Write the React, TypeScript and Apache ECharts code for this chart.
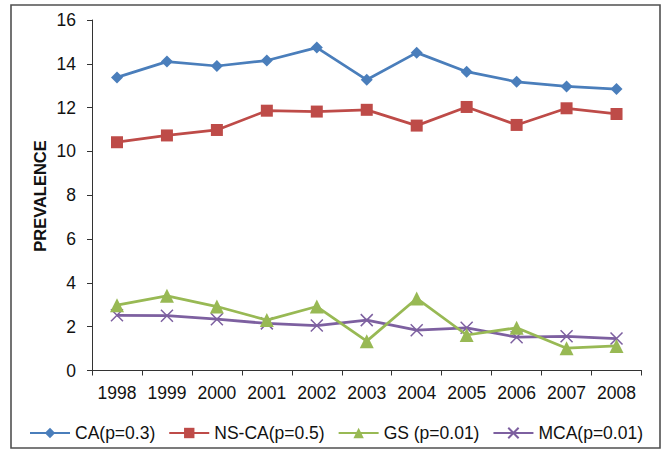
import React, { useEffect, useRef } from "react";
import * as echarts from "echarts";

const years = ["1998", "1999", "2000", "2001", "2002", "2003", "2004", "2005", "2006", "2007", "2008"];
const caValues = [13.38, 14.1, 13.9, 14.15, 14.74, 13.27, 14.51, 13.64, 13.18, 12.97, 12.85];
const nscaValues = [10.42, 10.73, 10.98, 11.86, 11.82, 11.9, 11.18, 12.03, 11.21, 11.97, 11.71];
const gsValues = [2.98, 3.41, 2.92, 2.3, 2.92, 1.34, 3.29, 1.62, 1.95, 1.02, 1.12];
const mcaValues = [2.52, 2.5, 2.34, 2.15, 2.05, 2.3, 1.84, 1.95, 1.52, 1.56, 1.46];
const seriesNames = ["CA(p=0.3)", "NS-CA(p=0.5)", "GS (p=0.01)", "MCA(p=0.01)"];
const colors = ["#4a7ebb", "#be4b48", "#98b954", "#7d60a0"];
const yTitle = "PREVALENCE";

const FONT = "'Liberation Sans', Arial, sans-serif";

export default function App() {
  const ref = useRef<HTMLDivElement>(null);
  useEffect(() => {
    if (!ref.current) return;
    const chart = echarts.init(ref.current, null, { renderer: "svg" });
    const symbols = ["diamond", "rect", "triangle", "path://M0,0L10,10M10,0L0,10"];
    const sizes = [12, 12, 14, 12];
    const data = [caValues, nscaValues, gsValues, mcaValues];
    chart.setOption({
      animation: false,
      backgroundColor: "#ffffff",
      grid: { left: 92, right: 23.5, top: 20, bottom: 78.5, containLabel: false },
      legend: {
        bottom: 2,
        left: 24,
        itemWidth: 40,
        itemHeight: 13,
        itemGap: 13,
        textStyle: { fontFamily: FONT, fontSize: 17.5, color: "#111" },
        data: seriesNames,
      },
      graphic: [
        {
          type: "rect",
          shape: { x: 11, y: 5, width: 649, height: 443 },
          style: { fill: "none", stroke: "#505050", lineWidth: 1.6 },
          silent: true,
        },
        {
          type: "text",
          x: 40,
          y: 196,
          rotation: Math.PI / 2,
          style: {
            text: yTitle,
            fontFamily: FONT,
            fontSize: 16.5,
            fontWeight: "bold",
            fill: "#111",
            textAlign: "center",
            textVerticalAlign: "middle",
          },
        },
      ],
      xAxis: {
        type: "category",
        data: years,
        boundaryGap: true,
        axisLine: { lineStyle: { color: "#333", width: 1 } },
        axisTick: { show: true, length: 5, alignWithLabel: false, lineStyle: { color: "#333" } },
        axisLabel: { fontFamily: FONT, fontSize: 17.5, color: "#111", margin: 13, interval: 0 },
        splitLine: { show: false },
      },
      yAxis: {
        type: "value",
        min: 0,
        max: 16,
        interval: 2,
        axisLine: { show: true, lineStyle: { color: "#333", width: 1 } },
        axisTick: { show: true, length: 5, lineStyle: { color: "#333" } },
        axisLabel: { fontFamily: FONT, fontSize: 17.5, color: "#111", margin: 16 },
        splitLine: { show: false },
      },
      series: seriesNames.map((name, i) => ({
        name,
        type: "line",
        data: data[i],
        symbol: symbols[i],
        symbolSize: sizes[i],
        showAllSymbol: true,
        lineStyle: { color: colors[i], width: 2.75 },
        itemStyle: {
          color: colors[i],
          borderColor: colors[i],
          borderWidth: i === 3 ? 1.5 : 0,
        },
        z: 10 - i,
      })),
    });
    return () => chart.dispose();
  }, []);
  return (
    <div
      ref={ref}
      style={{ position: "fixed", left: 0, top: 0, width: 665, height: 449, background: "#fff" }}
    />
  );
}
